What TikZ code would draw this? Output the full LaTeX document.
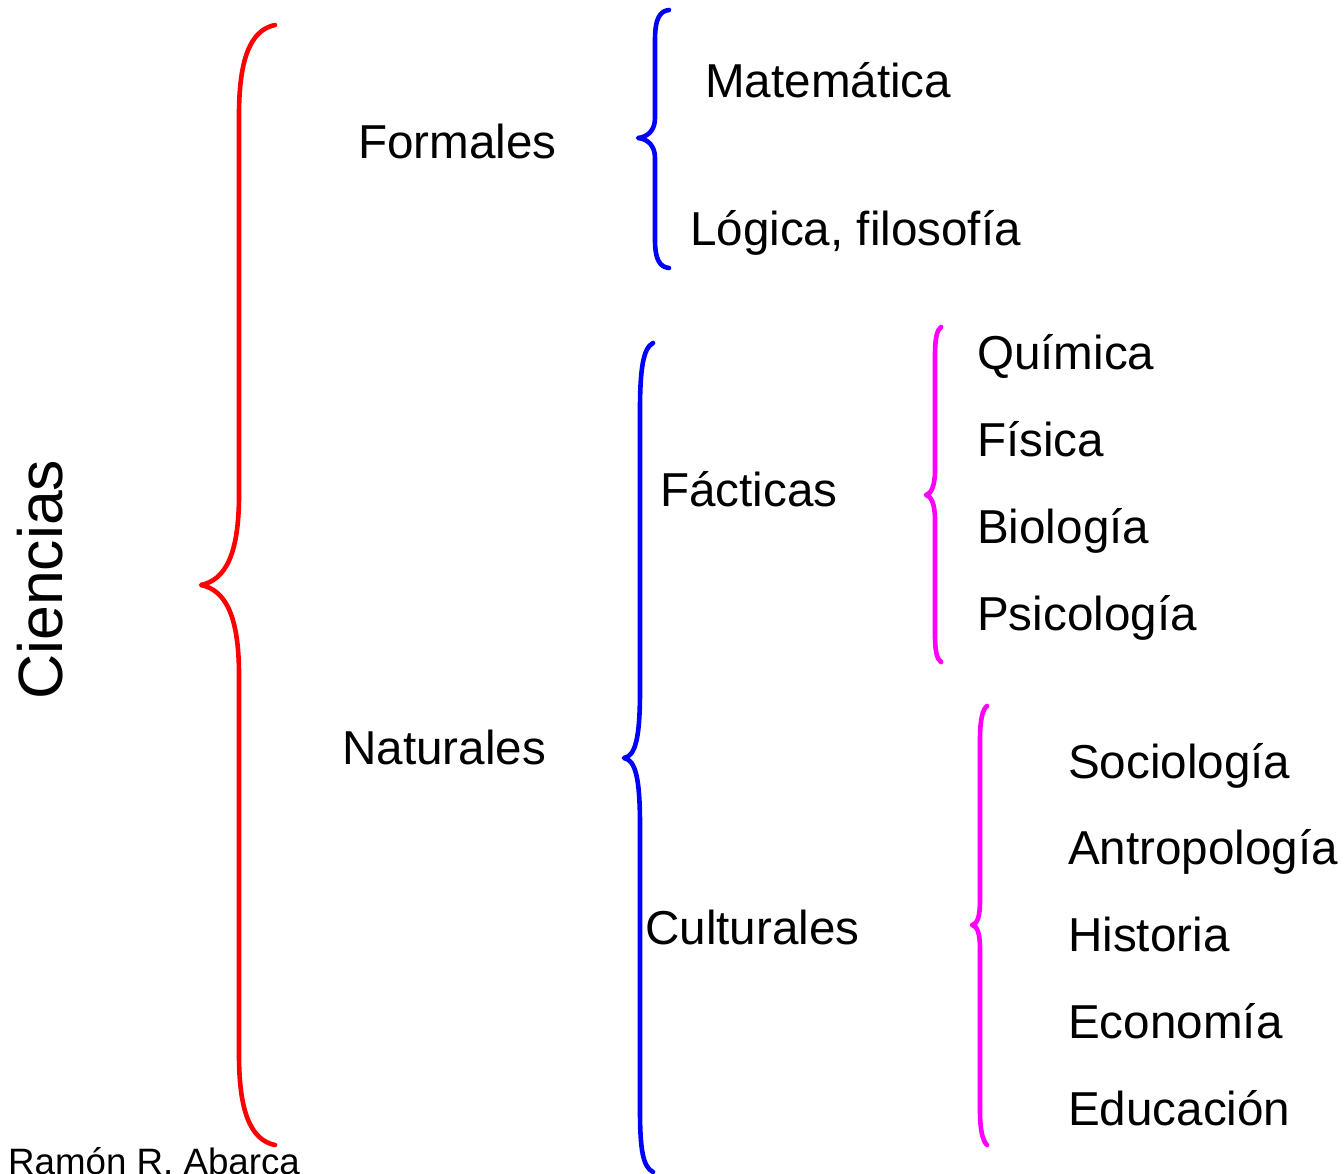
\documentclass[tikz,border=0pt]{standalone}
\usepackage{fontspec}
\setmainfont{Liberation Sans}
\definecolor{bred}{RGB}{255,0,0}
\definecolor{bblue}{RGB}{0,0,255}
\definecolor{bmag}{RGB}{255,0,255}
\begin{document}
\begin{tikzpicture}[x=1pt,y=-1pt,
  lbl/.style={anchor=base west,inner sep=0pt,font=\fontsize{47.6}{57}\selectfont},
  brace/.style={line width=4.6pt,line cap=round,line join=round}]
\clip (0,0) rectangle (1344,1174);
\useasboundingbox (0,0) rectangle (1344,1174);
% texts
\node[lbl,rotate=90,font=\fontsize{62.6}{70}\selectfont] (ciencias) at (62,700) {Ciencias};
\node[lbl] (formales) at (358,159) {Formales};
\node[lbl] (naturales) at (342,764) {Naturales};
\node[lbl] (mat) at (705,98) {Matemática};
\node[lbl] (log) at (690,246) {Lógica, filosofía};
\node[lbl] (fac) at (660,506) {Fácticas};
\node[lbl] (cul) at (645,944) {Culturales};
\node[lbl] (qui) at (977,369) {Química};
\node[lbl] (fis) at (977,456) {Física};
\node[lbl] (bio) at (977,543) {Biología};
\node[lbl] (psi) at (977,630) {Psicología};
\node[lbl] (soc) at (1068,778) {Sociología};
\node[lbl] (ant) at (1068,864) {Antropología};
\node[lbl] (his) at (1068,951) {Historia};
\node[lbl] (eco) at (1068,1038) {Economía};
\node[lbl] (edu) at (1068,1125) {Educación};
\node[lbl,font=\fontsize{36.7}{44}\selectfont] (author) at (8,1174) {Ramón R. Abarca};
% braces
\draw[brace,bred] (275,25) .. controls (250,30) and (239,60) .. (239,115) -- (239,495)
  .. controls (239,555) and (225,580) .. (201,585)
  .. controls (225,590) and (239,615) .. (239,675) -- (239,1055)
  .. controls (239,1110) and (250,1140) .. (275,1145);
\draw[brace,bblue] (669,10) .. controls (660,11) and (655,18) .. (655,40) -- (655,118)
  .. controls (655,130) and (648,137) .. (638,138)
  .. controls (648,139) and (655,146) .. (655,158) -- (655,240)
  .. controls (655,260) and (660,267) .. (669,268);
\draw[brace,bblue] (653,343) .. controls (643,348) and (640,370) .. (640,410) -- (640,690)
  .. controls (640,740) and (635,756) .. (624,758)
  .. controls (635,760) and (640,776) .. (640,826) -- (640,1110)
  .. controls (640,1150) and (643,1167) .. (653,1172);
\draw[brace,bmag] (941,327) .. controls (937,330) and (935,338) .. (935,355) -- (935,470)
  .. controls (935,486) and (931,494) .. (926,495)
  .. controls (931,496) and (935,504) .. (935,520) -- (935,635)
  .. controls (935,652) and (937,659) .. (941,662);
\draw[brace,bmag] (987,706) .. controls (983,709) and (980,718) .. (980,740) -- (980,900)
  .. controls (980,918) and (977,924) .. (972,925)
  .. controls (977,926) and (980,932) .. (980,950) -- (980,1110)
  .. controls (980,1132) and (983,1141) .. (987,1145);
\end{tikzpicture}
\end{document}
